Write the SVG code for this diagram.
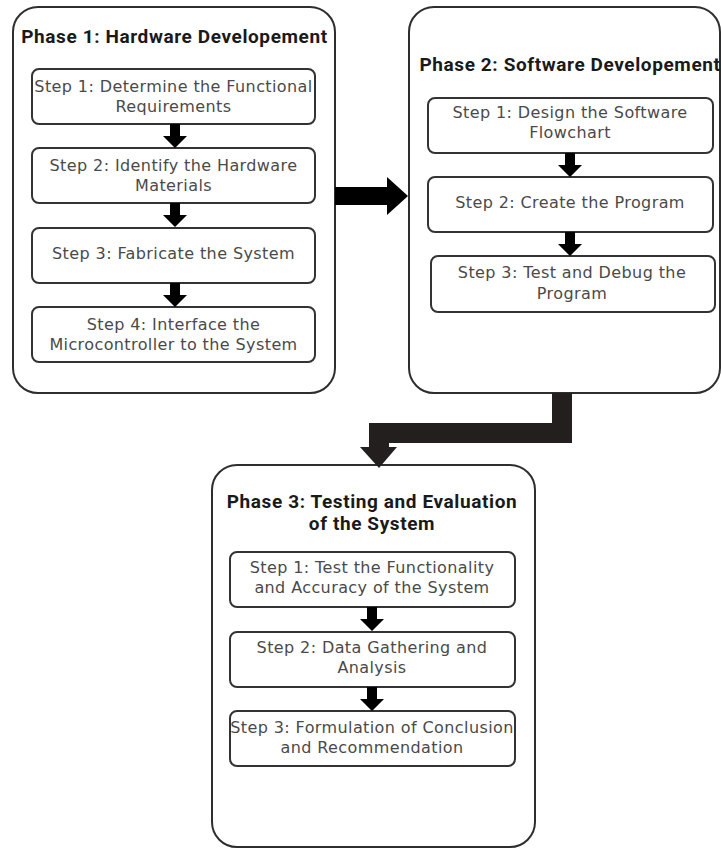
<svg xmlns="http://www.w3.org/2000/svg" width="721" height="850" viewBox="0 0 721 850">
<style>
.phase{fill:#fff;stroke:#2e2e2e;stroke-width:2}
.step{fill:#fff;stroke:#333;stroke-width:2}
.title{font-family:Roboto,"Liberation Sans",sans-serif;font-weight:bold;font-size:19px;letter-spacing:0.6px;fill:#1a1a1a;text-anchor:middle}
.txt{font-family:"DejaVu Sans","Liberation Sans",sans-serif;font-size:16px;letter-spacing:0.4px;fill:#4a4a4a;text-anchor:middle}
.arr{fill:#000}
.big{fill:#231f1e}
</style>
<defs>
<path id="dn" class="arr" d="M-5,0 H5 V12 H12 L0,24 L-12,12 H-5 Z"/>
</defs>
<rect width="721" height="850" fill="#fff"/>
<g id="phase1">
<rect class="phase" x="13" y="7" width="322" height="386" rx="25"/>
<text class="title" x="174.5" y="43">Phase 1: Hardware Developement</text>
</g>
<g id="p1s1"><rect class="step" x="32" y="69" width="283" height="55" rx="7"/>
<text class="txt" x="173.5" y="92">Step 1: Determine the Functional</text><text class="txt" x="173.5" y="112">Requirements</text></g>
<g id="p1s2"><rect class="step" x="32" y="148" width="283" height="55" rx="7"/>
<text class="txt" x="173.5" y="171">Step 2: Identify the Hardware</text><text class="txt" x="173.5" y="191">Materials</text></g>
<g id="p1s3"><rect class="step" x="32" y="228" width="283" height="55" rx="7"/>
<text class="txt" x="173.5" y="259">Step 3: Fabricate the System</text></g>
<g id="p1s4"><rect class="step" x="32" y="307" width="283" height="55" rx="7"/>
<text class="txt" x="173.5" y="330">Step 4: Interface the</text><text class="txt" x="173.5" y="350">Microcontroller to the System</text></g>
<g id="phase2">
<rect class="phase" x="409" y="7" width="311" height="386" rx="25"/>
<text class="title" x="570" y="71">Phase 2: Software Developement</text>
</g>
<g id="p2s1"><rect class="step" x="428" y="98" width="285" height="55" rx="7"/>
<text class="txt" x="570" y="118">Step 1: Design the Software</text><text class="txt" x="570" y="138">Flowchart</text></g>
<g id="p2s2"><rect class="step" x="428" y="177" width="285" height="55" rx="7"/>
<text class="txt" x="570" y="208">Step 2: Create the Program</text></g>
<g id="p2s3"><rect class="step" x="431" y="256" width="284" height="56" rx="7"/>
<text class="txt" x="572" y="278">Step 3: Test and Debug the</text><text class="txt" x="572" y="299">Program</text></g>
<g id="phase3">
<rect class="phase" x="212" y="465" width="323" height="382" rx="25"/>
<text class="title" x="372" y="508">Phase 3: Testing and Evaluation</text>
<text class="title" x="372" y="530">of the System</text>
</g>
<g id="p3s1"><rect class="step" x="230" y="552" width="285" height="55" rx="7"/>
<text class="txt" x="372" y="573">Step 1: Test the Functionality</text><text class="txt" x="372" y="593">and Accuracy of the System</text></g>
<g id="p3s2"><rect class="step" x="230" y="632" width="285" height="55" rx="7"/>
<text class="txt" x="372" y="653">Step 2: Data Gathering and</text><text class="txt" x="372" y="673">Analysis</text></g>
<g id="p3s3"><rect class="step" x="230" y="711" width="285" height="55" rx="7"/>
<text class="txt" x="372" y="733">Step 3: Formulation of Conclusion</text><text class="txt" x="372" y="753">and Recommendation</text></g>
<g id="connectors">
<use href="#dn" x="175" y="124"/>
<use href="#dn" x="175" y="203"/>
<use href="#dn" x="175" y="283"/>
<use href="#dn" x="570" y="153"/>
<use href="#dn" x="570" y="232"/>
<use href="#dn" x="372" y="607"/>
<use href="#dn" x="372" y="687"/>
<path class="arr" d="M335,187 H387 V177 L408,196 L387,215 V205 H335 Z"/>
<path class="big" d="M552,393 H572 V443 H389 V447 H397 L379,468 L360,447 H369 V423 H552 Z"/>
</g>
</svg>
